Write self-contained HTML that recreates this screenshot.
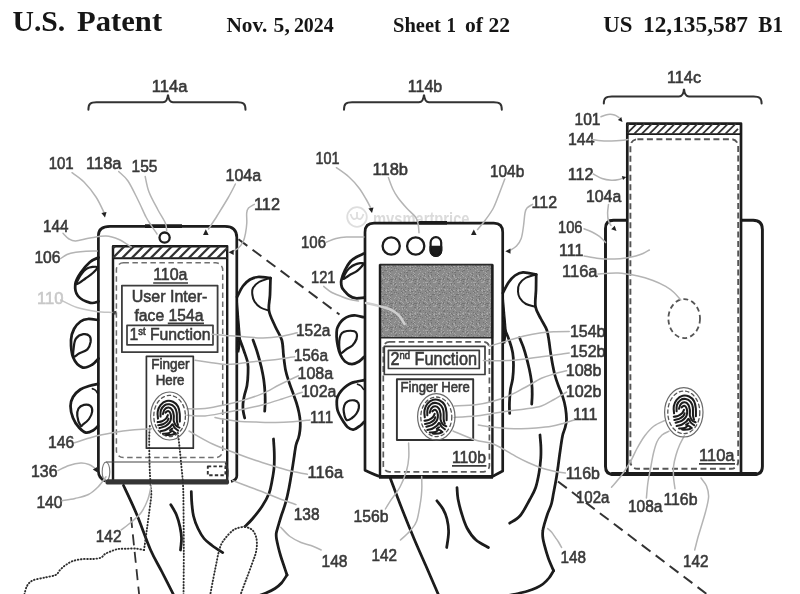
<!DOCTYPE html>
<html lang="en">
<head>
<meta charset="utf-8">
<title>U.S. Patent US 12,135,587 B1 - Sheet 1 of 22</title>
<style>
html,body{margin:0;padding:0;background:#fff;}
body{width:800px;height:594px;overflow:hidden;font-family:"Liberation Sans",sans-serif;}
svg{display:block;}
</style>
</head>
<body>
<svg width="800" height="594" viewBox="0 0 800 594">
<defs><filter id="soft" x="0" y="0" width="800" height="594" filterUnits="userSpaceOnUse"><feGaussianBlur stdDeviation="0.55"/></filter></defs>
<rect x="0" y="0" width="800" height="594" fill="#ffffff"/>
<g filter="url(#soft)">
<g id="watermark" fill="none" stroke="#dedede" stroke-width="1.8"><circle cx="357" cy="217" r="9.8"/><path d="M350.5 214Q353 222 357 217.5Q361 222 363.5 214M357 217.5V212"/></g>
<clipPath id="wmc"><rect x="340" y="200" width="170" height="22.2"/></clipPath>
<text clip-path="url(#wmc)" x="373" y="224.8" font-family="'Liberation Sans', sans-serif" font-weight="bold" font-size="18" textLength="96.5" lengthAdjust="spacingAndGlyphs" fill="#dbdbdb">mysmartprice</text>
<text y="31.3" font-family="'Liberation Serif', serif" font-weight="bold" font-size="30" fill="#151515"><tspan x="12.5" textLength="52.8" lengthAdjust="spacingAndGlyphs">U.S.</tspan> <tspan x="77.1" textLength="85.0" lengthAdjust="spacingAndGlyphs">Patent</tspan></text>
<text y="31.5" font-family="'Liberation Serif', serif" font-weight="bold" font-size="20" fill="#151515"><tspan x="226.4" textLength="40.9" lengthAdjust="spacingAndGlyphs">Nov.</tspan> <tspan x="273.6" textLength="16.2" lengthAdjust="spacingAndGlyphs">5,</tspan> <tspan x="293.9" textLength="39.9" lengthAdjust="spacingAndGlyphs">2024</tspan></text>
<text y="31.5" font-family="'Liberation Serif', serif" font-weight="bold" font-size="20" fill="#151515"><tspan x="393" textLength="47.8" lengthAdjust="spacingAndGlyphs">Sheet</tspan> <tspan x="446.5" textLength="9.5" lengthAdjust="spacingAndGlyphs">1</tspan> <tspan x="465" textLength="18.0" lengthAdjust="spacingAndGlyphs">of</tspan> <tspan x="488.5" textLength="21.5" lengthAdjust="spacingAndGlyphs">22</tspan></text>
<text y="31.8" font-family="'Liberation Serif', serif" font-weight="bold" font-size="22.4" fill="#151515"><tspan x="603.3" textLength="29.2" lengthAdjust="spacingAndGlyphs">US</tspan> <tspan x="643" textLength="105.0" lengthAdjust="spacingAndGlyphs">12,135,587</tspan> <tspan x="758.3" textLength="24.7" lengthAdjust="spacingAndGlyphs">B1</tspan></text>
<g id="labels" font-family="'Liberation Sans', sans-serif">
<text x="151.8" y="91.9" font-size="17" textLength="35.6" lengthAdjust="spacingAndGlyphs" fill="#3a3a3a" stroke="#3a3a3a" stroke-width="0.6" opacity="1">114a</text>
<text x="407.8" y="91.9" font-size="17" textLength="34.4" lengthAdjust="spacingAndGlyphs" fill="#3a3a3a" stroke="#3a3a3a" stroke-width="0.6" opacity="1">114b</text>
<text x="667.0" y="83.0" font-size="17" textLength="34.0" lengthAdjust="spacingAndGlyphs" fill="#3a3a3a" stroke="#3a3a3a" stroke-width="0.6" opacity="1">114c</text>
<text x="48.7" y="168.5" font-size="17" textLength="25.0" lengthAdjust="spacingAndGlyphs" fill="#3a3a3a" stroke="#3a3a3a" stroke-width="0.6" opacity="1">101</text>
<text x="86.0" y="168.5" font-size="17" textLength="35.5" lengthAdjust="spacingAndGlyphs" fill="#3a3a3a" stroke="#3a3a3a" stroke-width="0.6" opacity="1">118a</text>
<text x="131.6" y="171.7" font-size="17" textLength="25.9" lengthAdjust="spacingAndGlyphs" fill="#3a3a3a" stroke="#3a3a3a" stroke-width="0.6" opacity="1">155</text>
<text x="225.5" y="181.1" font-size="17" textLength="35.6" lengthAdjust="spacingAndGlyphs" fill="#3a3a3a" stroke="#3a3a3a" stroke-width="0.6" opacity="1">104a</text>
<text x="254.0" y="209.5" font-size="17" textLength="26.0" lengthAdjust="spacingAndGlyphs" fill="#3a3a3a" stroke="#3a3a3a" stroke-width="0.6" opacity="1">112</text>
<text x="43.0" y="232.1" font-size="17" textLength="25.5" lengthAdjust="spacingAndGlyphs" fill="#3a3a3a" stroke="#3a3a3a" stroke-width="0.6" opacity="1">144</text>
<text x="34.4" y="262.5" font-size="17" textLength="26.1" lengthAdjust="spacingAndGlyphs" fill="#3a3a3a" stroke="#3a3a3a" stroke-width="0.6" opacity="1">106</text>
<text x="296.0" y="336.1" font-size="17" textLength="34.5" lengthAdjust="spacingAndGlyphs" fill="#3a3a3a" stroke="#3a3a3a" stroke-width="0.6" opacity="1">152a</text>
<text x="293.7" y="360.5" font-size="17" textLength="34.3" lengthAdjust="spacingAndGlyphs" fill="#3a3a3a" stroke="#3a3a3a" stroke-width="0.6" opacity="1">156a</text>
<text x="297.5" y="379.0" font-size="17" textLength="35.6" lengthAdjust="spacingAndGlyphs" fill="#3a3a3a" stroke="#3a3a3a" stroke-width="0.6" opacity="1">108a</text>
<text x="301.0" y="397.2" font-size="17" textLength="35.5" lengthAdjust="spacingAndGlyphs" fill="#3a3a3a" stroke="#3a3a3a" stroke-width="0.6" opacity="1">102a</text>
<text x="310.0" y="423.2" font-size="17" textLength="23.1" lengthAdjust="spacingAndGlyphs" fill="#3a3a3a" stroke="#3a3a3a" stroke-width="0.6" opacity="1">111</text>
<text x="48.0" y="448.0" font-size="17" textLength="26.2" lengthAdjust="spacingAndGlyphs" fill="#3a3a3a" stroke="#3a3a3a" stroke-width="0.6" opacity="1">146</text>
<text x="31.0" y="476.8" font-size="17" textLength="26.5" lengthAdjust="spacingAndGlyphs" fill="#3a3a3a" stroke="#3a3a3a" stroke-width="0.6" opacity="1">136</text>
<text x="36.4" y="507.9" font-size="17" textLength="26.1" lengthAdjust="spacingAndGlyphs" fill="#3a3a3a" stroke="#3a3a3a" stroke-width="0.6" opacity="1">140</text>
<text x="95.7" y="541.5" font-size="17" textLength="25.8" lengthAdjust="spacingAndGlyphs" fill="#3a3a3a" stroke="#3a3a3a" stroke-width="0.6" opacity="1">142</text>
<text x="307.6" y="478.1" font-size="17" textLength="35.6" lengthAdjust="spacingAndGlyphs" fill="#3a3a3a" stroke="#3a3a3a" stroke-width="0.6" opacity="1">116a</text>
<text x="293.7" y="520.0" font-size="17" textLength="25.8" lengthAdjust="spacingAndGlyphs" fill="#3a3a3a" stroke="#3a3a3a" stroke-width="0.6" opacity="1">138</text>
<text x="321.5" y="567.2" font-size="17" textLength="26.0" lengthAdjust="spacingAndGlyphs" fill="#3a3a3a" stroke="#3a3a3a" stroke-width="0.6" opacity="1">148</text>
<text x="315.5" y="163.9" font-size="17" textLength="24.0" lengthAdjust="spacingAndGlyphs" fill="#3a3a3a" stroke="#3a3a3a" stroke-width="0.6" opacity="1">101</text>
<text x="372.5" y="175.1" font-size="17" textLength="35.5" lengthAdjust="spacingAndGlyphs" fill="#3a3a3a" stroke="#3a3a3a" stroke-width="0.6" opacity="1">118b</text>
<text x="490.0" y="176.5" font-size="17" textLength="34.2" lengthAdjust="spacingAndGlyphs" fill="#3a3a3a" stroke="#3a3a3a" stroke-width="0.6" opacity="1">104b</text>
<text x="531.6" y="208.1" font-size="17" textLength="25.5" lengthAdjust="spacingAndGlyphs" fill="#3a3a3a" stroke="#3a3a3a" stroke-width="0.6" opacity="1">112</text>
<text x="301.0" y="248.0" font-size="17" textLength="25.0" lengthAdjust="spacingAndGlyphs" fill="#3a3a3a" stroke="#3a3a3a" stroke-width="0.6" opacity="1">106</text>
<text x="311.0" y="282.5" font-size="17" textLength="24.5" lengthAdjust="spacingAndGlyphs" fill="#3a3a3a" stroke="#3a3a3a" stroke-width="0.6" opacity="1">121</text>
<text x="570.0" y="336.5" font-size="17" textLength="35.5" lengthAdjust="spacingAndGlyphs" fill="#3a3a3a" stroke="#3a3a3a" stroke-width="0.6" opacity="1">154b</text>
<text x="570.0" y="356.8" font-size="17" textLength="35.5" lengthAdjust="spacingAndGlyphs" fill="#3a3a3a" stroke="#3a3a3a" stroke-width="0.6" opacity="1">152b</text>
<text x="565.7" y="375.8" font-size="17" textLength="35.8" lengthAdjust="spacingAndGlyphs" fill="#3a3a3a" stroke="#3a3a3a" stroke-width="0.6" opacity="1">108b</text>
<text x="565.7" y="396.5" font-size="17" textLength="35.8" lengthAdjust="spacingAndGlyphs" fill="#3a3a3a" stroke="#3a3a3a" stroke-width="0.6" opacity="1">102b</text>
<text x="573.0" y="420.2" font-size="17" textLength="24.5" lengthAdjust="spacingAndGlyphs" fill="#3a3a3a" stroke="#3a3a3a" stroke-width="0.6" opacity="1">111</text>
<text x="565.7" y="478.9" font-size="17" textLength="34.3" lengthAdjust="spacingAndGlyphs" fill="#3a3a3a" stroke="#3a3a3a" stroke-width="0.6" opacity="1">116b</text>
<text x="353.5" y="521.8" font-size="17" textLength="35.0" lengthAdjust="spacingAndGlyphs" fill="#3a3a3a" stroke="#3a3a3a" stroke-width="0.6" opacity="1">156b</text>
<text x="371.5" y="560.5" font-size="17" textLength="25.5" lengthAdjust="spacingAndGlyphs" fill="#3a3a3a" stroke="#3a3a3a" stroke-width="0.6" opacity="1">142</text>
<text x="560.6" y="562.7" font-size="17" textLength="25.5" lengthAdjust="spacingAndGlyphs" fill="#3a3a3a" stroke="#3a3a3a" stroke-width="0.6" opacity="1">148</text>
<text x="574.5" y="124.5" font-size="17" textLength="26.0" lengthAdjust="spacingAndGlyphs" fill="#3a3a3a" stroke="#3a3a3a" stroke-width="0.6" opacity="1">101</text>
<text x="568.0" y="144.5" font-size="17" textLength="26.5" lengthAdjust="spacingAndGlyphs" fill="#3a3a3a" stroke="#3a3a3a" stroke-width="0.6" opacity="1">144</text>
<text x="567.7" y="179.5" font-size="17" textLength="25.8" lengthAdjust="spacingAndGlyphs" fill="#3a3a3a" stroke="#3a3a3a" stroke-width="0.6" opacity="1">112</text>
<text x="586.0" y="201.5" font-size="17" textLength="35.2" lengthAdjust="spacingAndGlyphs" fill="#3a3a3a" stroke="#3a3a3a" stroke-width="0.6" opacity="1">104a</text>
<text x="558.0" y="232.8" font-size="17" textLength="24.5" lengthAdjust="spacingAndGlyphs" fill="#3a3a3a" stroke="#3a3a3a" stroke-width="0.6" opacity="1">106</text>
<text x="559.0" y="255.5" font-size="17" textLength="24.5" lengthAdjust="spacingAndGlyphs" fill="#3a3a3a" stroke="#3a3a3a" stroke-width="0.6" opacity="1">111</text>
<text x="562.0" y="277.0" font-size="17" textLength="35.5" lengthAdjust="spacingAndGlyphs" fill="#3a3a3a" stroke="#3a3a3a" stroke-width="0.6" opacity="1">116a</text>
<text x="576.0" y="503.1" font-size="17" textLength="33.5" lengthAdjust="spacingAndGlyphs" fill="#3a3a3a" stroke="#3a3a3a" stroke-width="0.6" opacity="1">102a</text>
<text x="628.0" y="512.2" font-size="17" textLength="34.5" lengthAdjust="spacingAndGlyphs" fill="#3a3a3a" stroke="#3a3a3a" stroke-width="0.6" opacity="1">108a</text>
<text x="663.4" y="505.4" font-size="17" textLength="34.1" lengthAdjust="spacingAndGlyphs" fill="#3a3a3a" stroke="#3a3a3a" stroke-width="0.6" opacity="1">116b</text>
<text x="683.0" y="566.5" font-size="17" textLength="25.5" lengthAdjust="spacingAndGlyphs" fill="#3a3a3a" stroke="#3a3a3a" stroke-width="0.6" opacity="1">142</text>
<text x="37.0" y="303.5" font-size="17" textLength="26.5" lengthAdjust="spacingAndGlyphs" fill="#c8c8c8" stroke="#c8c8c8" stroke-width="0.6" opacity="1">110</text>
<text x="153.2" y="280.1" font-size="17" textLength="34.3" lengthAdjust="spacingAndGlyphs" fill="#3a3a3a" stroke="#3a3a3a" stroke-width="0.6" opacity="1">110a</text>
<path d="M153.2 283.0H188.0" stroke="#3a3a3a" stroke-width="1.7" fill="none"/>
<text x="452.0" y="462.9" font-size="17" textLength="33.9" lengthAdjust="spacingAndGlyphs" fill="#3a3a3a" stroke="#3a3a3a" stroke-width="0.6" opacity="1">110b</text>
<path d="M452.0 465.8H486.4" stroke="#3a3a3a" stroke-width="1.7" fill="none"/>
<text x="699.0" y="461.0" font-size="17" textLength="35.5" lengthAdjust="spacingAndGlyphs" fill="#3a3a3a" stroke="#3a3a3a" stroke-width="0.6" opacity="1">110a</text>
<path d="M699.0 463.9H735.0" stroke="#3a3a3a" stroke-width="1.7" fill="none"/>
<text x="131.8" y="301.5" font-size="17" textLength="75.5" lengthAdjust="spacingAndGlyphs" fill="#3a3a3a" stroke="#3a3a3a" stroke-width="0.6" opacity="1">User Inter-</text>
<text x="134.5" y="320.5" font-size="17" textLength="69.0" lengthAdjust="spacingAndGlyphs" fill="#3a3a3a" stroke="#3a3a3a" stroke-width="0.6" opacity="1">face 154a</text>
<path d="M167.8 323.4H204" stroke="#3a3a3a" stroke-width="1.7" fill="none"/>
<text x="151.2" y="368.9" font-size="13.8" textLength="38.3" lengthAdjust="spacingAndGlyphs" fill="#3a3a3a" stroke="#3a3a3a" stroke-width="0.6" opacity="1">Finger</text>
<text x="155.7" y="385.0" font-size="13.8" textLength="28.8" lengthAdjust="spacingAndGlyphs" fill="#3a3a3a" stroke="#3a3a3a" stroke-width="0.6" opacity="1">Here</text>
<text x="400.5" y="392.2" font-size="14.3" textLength="69.2" lengthAdjust="spacingAndGlyphs" fill="#3a3a3a" stroke="#3a3a3a" stroke-width="0.6" opacity="1">Finger Here</text>
<text x="129.5" y="340.2" font-size="17" textLength="81" lengthAdjust="spacingAndGlyphs" fill="#3a3a3a" stroke="#3a3a3a" stroke-width="0.6">1<tspan font-size="10" dy="-5.5">st</tspan><tspan dy="5.5"> Function</tspan></text>
<text x="390.5" y="364.8" font-size="18" textLength="86.5" lengthAdjust="spacingAndGlyphs" fill="#3a3a3a" stroke="#3a3a3a" stroke-width="0.6">2<tspan font-size="10.5" dy="-6">nd</tspan><tspan dy="6"> Function</tspan></text>
</g>
<path d="M88.4 109.8 C88.4 103.8 90.4 102.3 96.4 102.3 H163 C166 102.3 167.5 100.3 168 94.7 C168.5 100.3 170 102.3 173 102.3 H237.5 C243.5 102.3 245.5 103.8 245.5 109.8" fill="none" stroke="#333" stroke-width="2" stroke-linecap="round"/>
<path d="M344 109.8 C344 103.8 346 102.3 352 102.3 H419 C422 102.3 423.5 100.3 424 94.7 C424.5 100.3 426 102.3 429 102.3 H493.8 C499.8 102.3 501.8 103.8 501.8 109.8" fill="none" stroke="#333" stroke-width="2" stroke-linecap="round"/>
<path d="M603.8 103.5 C603.8 98.0 605.8 96.5 611.8 96.5 H679 C682 96.5 683.5 94.5 684 88.9 C684.5 94.5 686 96.5 689 96.5 H753.6 C759.6 96.5 761.6 98.0 761.6 103.5" fill="none" stroke="#333" stroke-width="2" stroke-linecap="round"/>
<g id="devA" fill="none" stroke-linejoin="round">
<path d="M105.5 481Q98.4 478.5 98.4 471V235.5Q98.4 226.3 110 226.3H225Q236.8 226.3 236.8 237.5V476Q236.8 480 231 481.5" stroke="#1a1a1a" stroke-width="2.7"/>
<path d="M145 226.1H182" stroke="#1a1a1a" stroke-width="3.8"/>
<circle cx="164.6" cy="237.6" r="5.1" stroke="#1a1a1a" stroke-width="2.3"/>
<path d="M113 482V246.2H227.2V482" stroke="#1a1a1a" stroke-width="2.4"/>
<path d="M113 258.2H227.2" stroke="#1a1a1a" stroke-width="2"/>
<path d="M113.0 248.2L115.0 246.2M113.0 257.7L124.5 246.2M122.0 258.2L134.0 246.2M131.5 258.2L143.5 246.2M141.0 258.2L153.0 246.2M150.5 258.2L162.5 246.2M160.0 258.2L172.0 246.2M169.5 258.2L181.5 246.2M179.0 258.2L191.0 246.2M188.5 258.2L200.5 246.2M198.0 258.2L210.0 246.2M207.5 258.2L219.5 246.2M217.0 258.2L227.2 248.0M226.5 258.2L227.2 257.5" stroke="#333" stroke-width="2.3" fill="none"/>
<rect x="116.4" y="262.8" width="106.3" height="194.8" rx="7" stroke="#707070" stroke-width="1.5" stroke-dasharray="5.5 3.5"/>
<rect x="121.9" y="285.6" width="95.7" height="66.6" stroke="#3c3c3c" stroke-width="1.8"/>
<rect x="127" y="325.3" width="86" height="19.5" stroke="#3c3c3c" stroke-width="1.7"/>
<rect x="146.4" y="356.3" width="46.9" height="91.9" stroke="#333" stroke-width="1.7"/>
<path d="M106 462H227.4" stroke="#444" stroke-width="1.1"/>
<ellipse cx="106" cy="471.7" rx="3.8" ry="9.6" stroke="#777" stroke-width="1.1"/>
<path d="M108 481.9H226.5" stroke="#363636" stroke-width="5.2" stroke-linecap="round"/>
<path d="M225.5 462.5Q229.5 471 226.5 480" stroke="#333" stroke-width="1.8"/>
<rect x="207.8" y="466.4" width="17.6" height="8.8" stroke="#333" stroke-width="1.9" stroke-dasharray="3.4 2.2"/>
</g>
<g id="devB" fill="none" stroke-linejoin="round">
<path d="M379.5 476.4Q376 475.6 365 470.3V232.2Q365 223.2 374 223.2H493.7Q502.7 223.2 502.7 232.2V471Q497 474 492.8 476.4Z" stroke="#1a1a1a" stroke-width="2.7"/>
<path d="M379 476.8H493" stroke="#1a1a1a" stroke-width="3.8"/>
<path d="M418.7 222.8H447" stroke="#1a1a1a" stroke-width="3.6"/>
<circle cx="391.2" cy="246" r="8.6" stroke="#1a1a1a" stroke-width="2.3"/>
<circle cx="415.7" cy="246" r="8.6" stroke="#1a1a1a" stroke-width="2.3"/>
<rect x="430.6" y="237.2" width="10.6" height="18.6" rx="5.3" fill="#fff" stroke="#1a1a1a" stroke-width="2.2"/>
<path d="M430.6 246.8H441.2V250.5A5.3 5.3 0 0 1 430.6 250.5Z" fill="#1a1a1a" stroke="#1a1a1a" stroke-width="2.2"/>
<pattern id="spk" width="24" height="24" patternUnits="userSpaceOnUse"><rect width="24" height="24" fill="#8b8b8b"/><path d="M10 4.5h1M12 20.5h1M1 2.5h1M17 3.5h1M11 18.5h1M1 16.5h1M6 1.5h1M2 13.5h1M13 2.5h1M7 2.5h1M17 13.5h1M1 18.5h1M3 7.5h1M20 20.5h1M18 1.5h1M18 18.5h1M12 1.5h1M7 1.5h1M17 4.5h1M9 13.5h1M4 17.5h1M3 18.5h1M9 17.5h1M21 5.5h1M3 18.5h1M18 20.5h1M6 11.5h1M3 17.5h1M22 2.5h1M18 1.5h1M19 6.5h1M15 21.5h1M17 13.5h1M10 14.5h1M18 14.5h1M11 9.5h1M7 5.5h1M22 7.5h1M2 18.5h1M9 16.5h1M15 10.5h1M23 14.5h1M9 19.5h1M2 3.5h1M16 13.5h1M5 10.5h1M4 15.5h1M13 1.5h1M21 2.5h1M17 18.5h1M10 10.5h1M22 11.5h1M19 15.5h1M18 14.5h1M2 2.5h1M8 15.5h1M22 21.5h1M2 1.5h1M23 22.5h1M9 20.5h1M18 21.5h1M14 9.5h1M22 12.5h1M21 11.5h1M0 14.5h1M11 5.5h1M19 3.5h1M15 1.5h1M6 9.5h1M4 23.5h1M7 12.5h1M12 15.5h1M2 5.5h1M14 12.5h1M17 8.5h1M4 13.5h1M17 8.5h1M22 13.5h1M11 21.5h1M12 7.5h1M4 2.5h1M5 4.5h1M7 21.5h1M7 0.5h1M15 18.5h1M5 8.5h1M9 0.5h1M4 13.5h1M17 11.5h1M19 18.5h1" stroke="#a6a6a6" stroke-width="1"/><path d="M10 4.5h1M22 16.5h1M19 20.5h1M21 23.5h1M1 14.5h1M21 17.5h1M12 12.5h1M12 12.5h1M3 15.5h1M20 12.5h1M1 6.5h1M2 6.5h1M14 5.5h1M3 10.5h1M19 1.5h1M3 0.5h1M18 4.5h1M17 3.5h1M11 19.5h1M0 2.5h1M6 19.5h1M12 4.5h1M20 8.5h1M11 19.5h1M11 15.5h1M3 3.5h1M15 14.5h1M15 15.5h1M9 2.5h1M4 3.5h1M23 10.5h1M23 8.5h1M15 22.5h1M5 16.5h1M0 6.5h1M16 11.5h1M4 22.5h1M17 0.5h1M16 9.5h1M20 2.5h1M22 8.5h1M16 11.5h1M5 11.5h1M7 17.5h1M17 16.5h1M10 20.5h1M7 19.5h1M6 7.5h1M12 23.5h1M7 6.5h1M16 15.5h1M11 23.5h1M0 0.5h1M8 15.5h1M8 6.5h1M22 19.5h1M11 14.5h1M23 11.5h1M11 2.5h1M7 3.5h1M7 15.5h1M6 10.5h1M6 15.5h1M19 19.5h1M0 15.5h1M20 11.5h1M20 2.5h1M21 3.5h1M12 22.5h1M6 15.5h1" stroke="#737373" stroke-width="1"/></pattern>
<rect x="380" y="264.6" width="112.4" height="73.2" fill="url(#spk)" stroke="#2a2a2a" stroke-width="1.6"/>
<path d="M380 476V264.6M492.4 264.6V476" stroke="#1a1a1a" stroke-width="2.4"/>
<rect x="383.3" y="341.8" width="106.1" height="130" rx="6" stroke="#5c5c5c" stroke-width="1.7" stroke-dasharray="6 3.5"/>
<rect x="384.3" y="346.3" width="100.7" height="28.2" stroke="#3c3c3c" stroke-width="1.7"/>
<rect x="388.4" y="350.3" width="90.9" height="18.2" stroke="#3c3c3c" stroke-width="1.7"/>
<rect x="396.9" y="379.2" width="76.3" height="60.8" stroke="#333" stroke-width="1.9"/>
</g>
<g id="devC" fill="none" stroke-linejoin="round">
<path d="M627.3 220.3H613.5Q605.5 220.3 605.5 228.5V466.5Q605.5 474.5 613.5 474.5H754.4Q762.4 474.5 762.4 466.5V229.5Q762.4 220.3 753 220.3H741" stroke="#1a1a1a" stroke-width="2.9"/>
<path d="M627.3 474V123.6H741V474" stroke="#1a1a1a" stroke-width="2.7"/>
<path d="M627.3 134.2H741" stroke="#1a1a1a" stroke-width="1.8"/>
<path d="M612 474H756" stroke="#1a1a1a" stroke-width="4.2" stroke-linecap="round"/>
<path d="M627.3 125.6L629.3 123.6M627.3 133.2L636.9 123.6M633.9 134.2L644.5 123.6M641.5 134.2L652.1 123.6M649.1 134.2L659.7 123.6M656.7 134.2L667.3 123.6M664.3 134.2L674.9 123.6M671.9 134.2L682.5 123.6M679.5 134.2L690.1 123.6M687.1 134.2L697.7 123.6M694.7 134.2L705.3 123.6M702.3 134.2L712.9 123.6M709.9 134.2L720.5 123.6M717.5 134.2L728.1 123.6M725.1 134.2L735.7 123.6M732.7 134.2L738.0 128.9" stroke="#333" stroke-width="1.8" fill="none"/>
<rect x="630.4" y="139.2" width="107.8" height="329.6" rx="7" stroke="#555" stroke-width="1.9" stroke-dasharray="6 3.5"/>
<ellipse cx="684.2" cy="318.6" rx="15.8" ry="19.5" stroke="#555" stroke-width="1.8" stroke-dasharray="5 3.2"/>
</g>
<g id="handA">
<path d="M98.5 257.5C97.1 258.2 93.0 259.4 90.0 262.0C87.0 264.6 83.0 269.3 80.5 273.0C78.0 276.7 75.7 280.5 75.3 284.3C74.9 288.1 75.5 292.9 78.0 296.0C80.5 299.1 87.0 301.9 90.4 302.8C93.8 303.7 97.2 301.7 98.5 301.5" fill="none" stroke="#1a1a1a" stroke-width="2.75" stroke-linecap="round" stroke-linejoin="round"/>
<path d="M97.0 267.0C95.9 266.3 89.8 267.1 87.0 268.5C84.2 269.9 82.2 272.9 80.5 275.5C78.8 278.1 75.7 283.8 76.5 284.3C77.3 284.8 82.6 280.5 85.4 278.5C88.2 276.5 91.5 274.4 93.4 272.5C95.3 270.6 98.1 267.7 97.0 267.0Z" fill="none" stroke="#1a1a1a" stroke-width="2.2" stroke-linecap="round" stroke-linejoin="round"/>
<path d="M98.0 320.0C96.3 319.8 90.9 318.8 88.0 319.0C85.1 319.2 82.8 319.8 80.5 321.5C78.2 323.2 75.6 325.9 74.0 329.0C72.4 332.1 71.1 335.2 71.0 340.0C70.9 344.8 71.3 352.9 73.2 357.5C75.1 362.1 79.1 366.2 82.3 367.4C85.5 368.6 89.7 366.0 92.4 364.5C95.1 363.0 97.5 359.5 98.5 358.5" fill="none" stroke="#1a1a1a" stroke-width="2.75" stroke-linecap="round" stroke-linejoin="round"/>
<path d="M73.6 356.5C72.7 355.4 73.4 350.0 73.8 347.0C74.2 344.0 74.4 340.6 76.0 338.5C77.6 336.4 81.0 334.6 83.3 334.2C85.5 333.8 88.3 334.7 89.5 336.0C90.7 337.3 90.9 339.8 90.6 342.0C90.2 344.2 89.3 347.5 87.4 349.4C85.5 351.3 81.3 352.3 79.0 353.5C76.7 354.7 74.5 357.6 73.6 356.5Z" fill="none" stroke="#1a1a1a" stroke-width="2.2" stroke-linecap="round" stroke-linejoin="round"/>
<path d="M98.0 384.0C96.5 384.3 92.0 385.1 89.0 386.0C86.0 386.9 83.0 387.7 80.3 389.5C77.6 391.3 74.6 394.2 73.0 397.0C71.4 399.8 70.5 402.5 70.5 406.0C70.5 409.5 71.6 414.4 73.0 418.0C74.4 421.6 76.8 425.1 79.0 427.5C81.2 429.9 83.7 432.1 86.0 432.6C88.3 433.1 91.0 431.6 93.0 430.5C95.0 429.4 97.2 426.8 98.0 426.0" fill="none" stroke="#1a1a1a" stroke-width="2.75" stroke-linecap="round" stroke-linejoin="round"/>
<path d="M80.6 425.6C79.6 424.2 77.6 418.9 77.3 416.0C77.0 413.1 77.4 410.4 78.5 408.5C79.6 406.6 82.0 405.2 84.0 404.8C86.0 404.4 89.0 404.7 90.4 405.8C91.8 406.9 92.4 409.3 92.2 411.5C92.0 413.7 90.5 416.8 89.0 419.0C87.5 421.2 84.4 423.4 83.0 424.5C81.6 425.6 81.5 427.0 80.6 425.6Z" fill="none" stroke="#1a1a1a" stroke-width="2.2" stroke-linecap="round" stroke-linejoin="round"/>
<path d="M92.4 388.7C92.9 389.0 94.7 389.6 95.5 390.3C96.3 391.1 97.2 392.7 97.5 393.2" fill="none" stroke="#1a1a1a" stroke-width="1.6" stroke-linecap="round" stroke-linejoin="round"/>
<path d="M237.0 297.0C238.0 295.2 240.8 288.9 243.0 286.0C245.2 283.1 247.5 281.0 250.0 279.5C252.5 278.0 254.6 277.2 258.0 277.0C261.4 276.8 268.4 277.8 270.5 278.0" fill="none" stroke="#1a1a1a" stroke-width="2.75" stroke-linecap="round" stroke-linejoin="round"/>
<path d="M270.5 278.0C270.4 280.8 270.2 289.6 270.0 295.0C269.8 300.4 268.2 305.4 269.0 310.6C269.8 315.8 272.9 321.1 275.0 326.0C277.1 330.9 280.4 335.2 281.8 340.0C283.2 344.8 282.9 349.9 283.5 355.0C284.1 360.1 284.7 365.8 285.6 370.3C286.5 374.8 287.8 378.2 289.0 382.0C290.2 385.8 291.8 389.5 293.0 393.0C294.2 396.5 295.5 399.7 296.5 403.0C297.5 406.3 298.4 409.7 299.0 412.7C299.6 415.7 300.0 418.1 300.2 421.0C300.4 423.9 300.3 427.2 300.0 430.0C299.7 432.8 299.2 435.5 298.5 438.0C297.8 440.5 296.8 441.5 296.0 445.0C295.2 448.5 294.5 454.4 293.8 459.0C293.1 463.6 292.5 467.6 291.7 472.4C290.9 477.2 290.0 482.9 289.0 488.0C288.0 493.1 286.9 498.2 285.6 502.7C284.4 507.2 282.8 511.0 281.5 515.0C280.2 519.0 278.9 523.7 278.0 526.7C277.1 529.7 276.6 531.0 276.3 533.0C276.1 535.0 276.1 536.3 276.5 538.8C276.9 541.3 277.8 545.0 278.5 548.0C279.2 551.0 280.1 554.0 281.0 557.0C281.9 560.0 283.0 563.0 284.0 566.0C285.0 569.0 286.5 573.5 287.0 575.0" fill="none" stroke="#1a1a1a" stroke-width="2.75" stroke-linecap="round" stroke-linejoin="round"/>
<path d="M287.0 575.0C286.1 576.3 283.5 580.8 281.5 583.0C279.5 585.2 277.6 586.8 275.0 588.5C272.4 590.2 268.8 591.8 266.0 593.0C263.2 594.2 259.3 595.5 258.0 596.0" fill="none" stroke="#1a1a1a" stroke-width="2.75" stroke-linecap="round" stroke-linejoin="round"/>
<path d="M269.0 278.3C267.3 278.9 261.7 280.4 259.0 282.0C256.3 283.6 254.1 285.9 253.0 288.0C251.9 290.1 252.1 292.2 252.3 294.5C252.6 296.8 253.1 299.3 254.5 301.5C255.9 303.7 258.1 306.0 260.5 307.5C262.9 309.0 267.6 310.1 269.0 310.6" fill="none" stroke="#1a1a1a" stroke-width="2" stroke-linecap="round" stroke-linejoin="round"/>
<path d="M237 297L240.6 341L238.8 352L236.4 352Z" fill="#1a1a1a" stroke="#1a1a1a" stroke-width="1.2" stroke-linejoin="round"/>
<path d="M240.0 340.0C240.7 341.8 242.7 347.2 244.0 351.0C245.3 354.8 247.0 358.9 247.7 362.7C248.4 366.5 248.1 370.2 248.0 374.0C247.9 377.8 247.6 382.0 247.0 385.5C246.4 389.0 245.2 392.0 244.5 395.0C243.8 398.0 243.2 400.9 243.0 403.6C242.8 406.3 242.9 408.6 243.2 411.0C243.5 413.4 244.4 416.8 244.7 418.0" fill="none" stroke="#1a1a1a" stroke-width="2.75" stroke-linecap="round" stroke-linejoin="round"/>
<path d="M253.0 340.0C253.8 342.2 256.1 348.4 257.5 353.0C258.9 357.6 260.3 362.8 261.4 367.3C262.4 371.8 263.2 375.7 263.8 380.0C264.4 384.3 264.8 389.3 265.0 393.0C265.2 396.7 265.2 399.0 265.2 402.0C265.1 405.0 264.8 409.7 264.7 411.2" fill="none" stroke="#1a1a1a" stroke-width="2.75" stroke-linecap="round" stroke-linejoin="round"/>
<path d="M273.5 439.0C273.6 441.3 274.2 448.2 274.3 453.0C274.4 457.8 274.4 463.3 274.0 468.0C273.6 472.7 272.8 476.7 272.0 481.0C271.2 485.3 270.7 489.4 269.0 493.6C267.3 497.9 264.8 502.3 262.0 506.5C259.2 510.7 255.1 515.7 252.3 519.0C249.5 522.3 246.2 525.2 245.0 526.5" fill="none" stroke="#1a1a1a" stroke-width="2.75" stroke-linecap="round" stroke-linejoin="round"/>
<path d="M123.5 485.5C125.8 490.4 132.5 504.2 137.0 515.0C141.5 525.8 146.4 540.5 150.6 550.0C154.8 559.5 158.1 564.3 162.0 572.0C165.9 579.7 172.2 592.0 174.2 596.0" fill="none" stroke="#1a1a1a" stroke-width="2.75" stroke-linecap="round" stroke-linejoin="round"/>
<path d="M170.8 504.7C171.8 506.4 175.0 511.3 176.5 515.0C178.0 518.7 179.2 523.2 180.0 527.0C180.8 530.8 181.4 534.2 181.5 538.0C181.6 541.8 180.7 548.0 180.5 550.0" fill="none" stroke="#1a1a1a" stroke-width="2.75" stroke-linecap="round" stroke-linejoin="round"/>
<path d="M191.3 491.6C191.4 493.5 191.4 498.9 191.8 503.0C192.2 507.1 192.5 511.8 193.5 516.0C194.5 520.2 196.2 524.8 198.0 528.5C199.8 532.2 201.7 535.7 204.0 538.5C206.3 541.3 208.9 543.1 212.0 545.5C215.1 547.9 220.9 551.4 222.7 552.6" fill="none" stroke="#1a1a1a" stroke-width="2.75" stroke-linecap="round" stroke-linejoin="round"/>
<path d="M200.0 537.4C201.7 538.8 206.2 543.5 210.0 546.0C213.8 548.5 220.6 551.5 222.7 552.6" fill="none" stroke="#1a1a1a" stroke-width="0.01" stroke-linecap="round" stroke-linejoin="round"/>
<path d="M149.8 426.0C149.7 428.3 149.2 433.3 149.2 440.0C149.2 446.7 149.4 458.6 149.6 466.0C149.8 473.4 150.3 479.7 150.6 484.5C150.9 489.3 151.5 490.8 151.3 495.0C151.1 499.2 150.2 504.2 149.5 510.0C148.8 515.8 147.7 523.3 146.8 530.0C145.9 536.7 144.5 546.7 144.0 550.0" fill="none" stroke="#2e2e2e" stroke-width="1.9" stroke-linecap="round" stroke-linejoin="round" stroke-dasharray="0.6 2.5"/>
<path d="M177.8 433.0C178.1 435.0 178.8 440.2 179.3 445.0C179.8 449.8 180.4 455.4 181.0 462.0C181.6 468.6 182.6 477.0 183.0 484.5C183.4 492.0 183.4 496.1 183.5 507.0C183.6 517.9 183.8 535.2 183.8 550.0C183.8 564.8 183.6 588.3 183.5 596.0" fill="none" stroke="#2e2e2e" stroke-width="1.9" stroke-linecap="round" stroke-linejoin="round" stroke-dasharray="0.6 2.5"/>
<path d="M144.0 550.0C142.5 549.8 137.9 548.7 135.0 548.5C132.1 548.3 129.1 548.7 126.3 548.8C123.5 548.9 120.5 548.6 118.0 549.0C115.5 549.4 113.2 550.5 111.0 551.3C108.8 552.1 106.7 553.0 105.0 554.0C103.3 555.0 103.0 556.8 101.0 557.6C99.0 558.4 96.0 558.8 93.0 559.0C90.0 559.2 86.6 558.7 83.3 559.0C80.0 559.3 75.9 560.0 73.0 561.0C70.1 562.0 67.9 563.5 65.7 565.0C63.5 566.5 61.7 568.3 60.0 570.0C58.3 571.7 58.1 573.8 55.6 575.0C53.1 576.2 48.8 576.6 45.0 577.5C41.2 578.4 35.8 579.0 32.8 580.4C29.8 581.8 28.5 583.4 27.0 586.0C25.5 588.6 24.5 594.3 24.0 596.0" fill="none" stroke="#2e2e2e" stroke-width="1.9" stroke-linecap="round" stroke-linejoin="round" stroke-dasharray="0.6 2.5"/>
<path d="M245.0 526.5C243.8 526.8 240.0 527.3 238.0 528.0C236.0 528.7 234.9 528.8 232.8 530.5C230.7 532.2 227.6 535.2 225.5 538.0C223.4 540.8 221.8 542.2 220.0 547.5C218.2 552.8 216.7 561.9 215.0 570.0C213.3 578.1 210.8 591.7 210.0 596.0" fill="none" stroke="#2e2e2e" stroke-width="1.9" stroke-linecap="round" stroke-linejoin="round" stroke-dasharray="0.6 2.5"/>
<path d="M245.0 526.5C246.0 526.9 249.4 527.9 251.0 529.0C252.6 530.1 253.5 531.0 254.5 533.0C255.5 535.0 256.6 537.8 256.8 541.0C257.1 544.2 256.8 548.3 256.0 552.0C255.2 555.7 254.0 558.3 252.3 563.0C250.6 567.7 248.1 574.5 246.0 580.0C243.9 585.5 241.0 593.3 240.0 596.0" fill="none" stroke="#2e2e2e" stroke-width="1.9" stroke-linecap="round" stroke-linejoin="round" stroke-dasharray="0.6 2.5"/>
</g>
<path d="M238.5 239.3L339.5 314.5" stroke="#333" stroke-width="2" stroke-dasharray="11 6.5" fill="none"/>
<path d="M558 481.5L712 598" stroke="#333" stroke-width="2" stroke-dasharray="11 6.5" fill="none"/>
<path d="M131 517L139.5 598" stroke="#333" stroke-width="1.8" stroke-dasharray="11 6.5" fill="none"/>
<g id="handB">
<path d="M364.0 253.6C362.8 254.2 358.8 255.7 356.5 257.0C354.2 258.3 352.3 259.3 350.4 261.5C348.5 263.7 346.5 266.9 345.0 270.0C343.5 273.1 341.8 277.6 341.3 280.4C340.8 283.2 341.3 285.3 341.8 287.0C342.3 288.7 343.1 289.4 344.3 290.8C345.5 292.2 347.1 294.3 349.0 295.5C350.9 296.7 353.0 297.8 355.5 298.2C358.0 298.6 362.6 297.7 364.0 297.6" fill="none" stroke="#1a1a1a" stroke-width="2.75" stroke-linecap="round" stroke-linejoin="round"/>
<path d="M363.5 263.4C363.2 262.4 357.9 263.5 355.5 264.4C353.1 265.2 350.7 267.0 349.0 268.5C347.3 270.0 346.2 271.8 345.3 273.5C344.4 275.2 342.5 278.6 343.3 278.8C344.1 279.0 348.0 276.0 350.4 274.6C352.8 273.2 355.3 272.5 357.5 270.6C359.7 268.7 363.8 264.4 363.5 263.4Z" fill="none" stroke="#1a1a1a" stroke-width="2.3" stroke-linecap="round" stroke-linejoin="round"/>
<path d="M363.5 317.2C362.2 316.9 358.4 315.7 356.0 315.5C353.6 315.3 351.1 315.6 349.0 316.2C346.9 316.8 344.9 318.1 343.3 319.3C341.7 320.5 340.7 321.9 339.6 323.5C338.6 325.1 337.5 326.8 337.0 329.0C336.5 331.2 336.5 334.2 336.6 337.0C336.7 339.8 337.2 343.1 337.8 346.0C338.4 348.9 339.1 351.9 340.3 354.5C341.5 357.1 343.1 359.9 345.0 361.5C346.9 363.1 349.7 364.0 352.0 364.0C354.3 364.0 357.0 362.7 359.0 361.5C361.0 360.3 363.2 357.8 364.0 357.0" fill="none" stroke="#1a1a1a" stroke-width="2.75" stroke-linecap="round" stroke-linejoin="round"/>
<path d="M340.7 353.0C339.6 352.2 339.3 347.6 339.2 345.0C339.1 342.4 339.3 339.4 339.8 337.4C340.3 335.4 340.8 334.1 342.0 333.0C343.2 331.9 344.9 331.3 347.0 331.0C349.1 330.7 352.8 330.8 354.4 331.3C356.0 331.8 356.4 332.7 356.8 334.0C357.2 335.3 357.2 337.1 356.5 339.0C355.8 340.9 354.1 343.8 352.4 345.5C350.6 347.2 347.9 348.2 346.0 349.5C344.1 350.8 341.8 353.8 340.7 353.0Z" fill="none" stroke="#1a1a1a" stroke-width="2.2" stroke-linecap="round" stroke-linejoin="round"/>
<path d="M364.0 380.2C362.8 380.4 359.3 380.9 357.0 381.5C354.7 382.1 352.6 382.4 350.4 383.5C348.2 384.6 345.9 386.3 344.0 388.0C342.1 389.7 340.5 391.7 339.3 393.5C338.1 395.3 337.4 397.2 337.0 399.0C336.6 400.8 336.7 402.7 336.8 404.5C336.9 406.3 337.1 408.3 337.5 410.0C337.9 411.7 338.4 412.7 339.3 414.5C340.2 416.3 341.6 418.9 343.0 421.0C344.4 423.1 345.7 425.6 347.4 427.0C349.1 428.4 351.2 429.9 353.4 429.6C355.6 429.4 358.7 426.8 360.5 425.5C362.3 424.2 363.4 422.6 364.0 422.0" fill="none" stroke="#1a1a1a" stroke-width="2.75" stroke-linecap="round" stroke-linejoin="round"/>
<path d="M346.6 420.0C345.2 419.0 344.2 414.4 343.8 412.0C343.4 409.6 343.7 407.3 344.3 405.5C344.9 403.7 345.9 402.2 347.6 401.4C349.3 400.5 352.6 400.1 354.4 400.4C356.2 400.7 357.6 401.7 358.3 403.0C359.0 404.3 359.1 406.2 358.8 408.0C358.5 409.8 357.6 411.8 356.5 413.5C355.4 415.2 353.6 416.9 352.0 418.0C350.4 419.1 348.0 421.0 346.6 420.0Z" fill="none" stroke="#1a1a1a" stroke-width="2.2" stroke-linecap="round" stroke-linejoin="round"/>
<path d="M357.5 384.2C358.1 384.5 360.0 385.1 361.0 386.0C362.0 386.9 363.1 388.8 363.5 389.3" fill="none" stroke="#1a1a1a" stroke-width="1.6" stroke-linecap="round" stroke-linejoin="round"/>
<path d="M502.9 293.0C503.8 291.2 506.5 285.4 508.5 282.5C510.5 279.6 512.6 277.2 515.0 275.5C517.4 273.8 519.5 272.5 523.0 272.3C526.5 272.1 534.0 274.1 536.2 274.5" fill="none" stroke="#1a1a1a" stroke-width="2.75" stroke-linecap="round" stroke-linejoin="round"/>
<path d="M536.2 274.5C536.2 277.1 536.1 284.6 536.0 290.0C535.9 295.4 534.7 301.9 535.5 306.7C536.3 311.5 539.1 315.1 541.0 319.0C542.9 322.9 545.5 326.3 546.8 330.0C548.1 333.7 548.4 337.2 549.0 341.0C549.6 344.8 550.0 348.9 550.6 352.7C551.2 356.5 551.8 360.2 552.5 364.0C553.2 367.8 554.0 371.8 555.0 375.5C556.0 379.2 557.2 382.5 558.5 386.0C559.8 389.5 561.5 393.0 562.7 396.7C563.9 400.4 564.9 404.1 565.5 408.0C566.1 411.9 566.6 416.7 566.5 420.0C566.4 423.3 565.6 425.5 565.0 428.0C564.4 430.5 563.5 431.3 562.7 435.0C561.9 438.7 561.0 444.9 560.3 450.0C559.5 455.1 558.9 460.5 558.2 465.5C557.5 470.5 556.8 475.5 556.0 480.0C555.2 484.5 554.4 488.7 553.6 492.7C552.8 496.7 552.4 500.4 551.4 504.0C550.4 507.6 548.6 510.7 547.5 514.0C546.4 517.3 545.3 520.9 544.5 523.7C543.7 526.5 543.0 528.5 542.8 531.0C542.5 533.5 542.5 535.8 543.0 538.8C543.5 541.8 544.5 545.5 545.5 549.0C546.5 552.5 547.6 556.4 549.0 560.0C550.4 563.6 552.8 568.9 553.6 570.7" fill="none" stroke="#1a1a1a" stroke-width="2.75" stroke-linecap="round" stroke-linejoin="round"/>
<path d="M553.6 570.7C552.8 571.9 550.8 575.8 549.0 578.0C547.2 580.2 545.2 582.3 543.0 584.0C540.8 585.7 538.5 586.8 536.0 588.0C533.5 589.2 530.6 590.2 527.9 591.0C525.2 591.8 523.3 592.2 520.0 593.0C516.7 593.8 510.0 595.1 508.0 595.5" fill="none" stroke="#1a1a1a" stroke-width="2.75" stroke-linecap="round" stroke-linejoin="round"/>
<path d="M535.0 274.8C533.4 275.3 528.1 276.5 525.5 278.0C522.9 279.5 520.5 281.8 519.3 284.0C518.0 286.2 517.9 289.2 518.0 291.5C518.1 293.8 518.5 295.9 519.8 298.0C521.1 300.1 523.4 302.6 526.0 304.0C528.6 305.4 533.9 306.2 535.5 306.7" fill="none" stroke="#1a1a1a" stroke-width="2" stroke-linecap="round" stroke-linejoin="round"/>
<path d="M502.9 293L506.2 331L504.8 343L502.4 343Z" fill="#1a1a1a" stroke="#1a1a1a" stroke-width="1.2" stroke-linejoin="round"/>
<path d="M505.0 330.0C505.8 331.8 508.2 337.2 509.5 341.0C510.8 344.8 512.0 348.7 512.7 352.7C513.4 356.7 513.5 360.7 513.5 365.0C513.5 369.3 513.2 374.5 512.7 378.5C512.2 382.5 511.0 385.8 510.5 389.0C510.0 392.2 509.9 395.2 509.7 398.0C509.5 400.8 509.4 403.4 509.4 406.0C509.4 408.6 509.6 412.1 509.7 413.3" fill="none" stroke="#1a1a1a" stroke-width="2.75" stroke-linecap="round" stroke-linejoin="round"/>
<path d="M519.5 337.6C520.1 339.2 522.1 343.7 523.3 347.0C524.4 350.3 525.4 353.5 526.4 357.3C527.4 361.1 528.6 365.7 529.5 370.0C530.4 374.3 531.2 379.0 531.7 383.0C532.2 387.0 532.2 390.5 532.2 394.0C532.2 397.5 531.8 402.5 531.7 404.2" fill="none" stroke="#1a1a1a" stroke-width="2.75" stroke-linecap="round" stroke-linejoin="round"/>
<path d="M540.0 435.0C540.1 437.0 540.8 443.2 540.9 447.0C541.0 450.8 541.1 453.7 540.8 458.0C540.5 462.3 539.9 468.0 539.0 473.0C538.1 478.0 537.1 483.5 535.5 488.0C533.9 492.5 532.0 495.4 529.5 500.0C527.0 504.6 523.6 511.6 520.3 515.5C517.0 519.4 511.5 521.9 509.7 523.2" fill="none" stroke="#1a1a1a" stroke-width="2.75" stroke-linecap="round" stroke-linejoin="round"/>
<path d="M390.4 478.6C392.3 483.7 398.0 498.8 402.0 509.0C406.0 519.2 410.6 530.5 414.6 540.0C418.6 549.5 421.9 556.7 426.0 566.0C430.1 575.3 436.8 591.0 439.0 596.0" fill="none" stroke="#1a1a1a" stroke-width="2.75" stroke-linecap="round" stroke-linejoin="round"/>
<path d="M436.9 500.8C437.9 502.2 441.3 506.0 443.0 509.0C444.7 512.0 446.1 515.2 447.0 519.0C447.9 522.8 448.7 527.2 448.6 532.0C448.6 536.8 447.0 544.9 446.7 547.5" fill="none" stroke="#1a1a1a" stroke-width="2.75" stroke-linecap="round" stroke-linejoin="round"/>
<path d="M457.0 487.7C457.2 489.6 457.2 494.8 458.0 499.0C458.8 503.2 460.0 508.2 461.5 513.0C463.0 517.8 464.6 523.5 467.0 528.0C469.4 532.5 472.4 536.8 476.0 540.0C479.6 543.2 486.3 546.2 488.4 547.5" fill="none" stroke="#1a1a1a" stroke-width="2.75" stroke-linecap="round" stroke-linejoin="round"/>
</g>
<g id="leaders">
<path d="M72.0 172.7C74.0 174.2 80.0 177.9 84.0 182.0C88.0 186.1 92.6 191.8 96.0 197.0C99.4 202.2 102.9 210.3 104.3 213.0" fill="none" stroke="#b4b4b4" stroke-width="1.5" stroke-linecap="round" stroke-linejoin="round"/>
<path d="M105.0 217.5L101.4 213.0L106.5 211.9Z" fill="#222"/>
<path d="M118.7 171.5C120.2 173.1 124.8 176.2 128.0 181.0C131.2 185.8 135.0 194.0 138.0 200.0C141.0 206.0 143.8 212.7 146.0 217.0C148.2 221.3 149.7 223.0 151.5 225.8C153.3 228.6 156.1 232.6 157.0 234.0" fill="none" stroke="#b4b4b4" stroke-width="1.5" stroke-linecap="round" stroke-linejoin="round"/>
<path d="M145.2 176.5C145.8 179.1 146.9 186.4 149.0 192.0C151.1 197.6 155.3 204.8 158.0 210.0C160.7 215.2 164.0 219.7 165.4 223.2C166.8 226.7 166.5 229.7 166.7 231.0" fill="none" stroke="#b4b4b4" stroke-width="1.5" stroke-linecap="round" stroke-linejoin="round"/>
<path d="M235.4 184.0C234.2 186.3 231.1 192.7 228.0 198.0C224.9 203.3 220.2 210.8 217.0 216.0C213.8 221.2 209.9 226.8 208.5 229.0" fill="none" stroke="#b4b4b4" stroke-width="1.5" stroke-linecap="round" stroke-linejoin="round"/>
<path d="M205.8 229.3L208.6 234.9L203.0 234.9Z" fill="#222"/>
<path d="M254.3 204.3C253.3 204.9 249.8 206.6 248.5 208.0C247.2 209.4 247.0 210.5 246.7 213.0C246.4 215.5 247.0 219.6 246.8 223.0C246.6 226.4 246.1 230.1 245.5 233.3C244.9 236.5 244.3 239.5 243.0 242.0C241.7 244.5 239.7 246.9 237.9 248.5C236.1 250.1 233.0 251.0 232.0 251.5" fill="none" stroke="#b4b4b4" stroke-width="1.5" stroke-linecap="round" stroke-linejoin="round"/>
<path d="M228.5 252.3L233.7 249.7L233.7 254.9Z" fill="#222"/>
<path d="M63.0 233.3C64.0 234.2 66.9 237.7 69.0 239.0C71.1 240.3 72.3 241.2 75.8 241.0C79.3 240.8 85.0 238.8 90.0 238.0C95.0 237.2 101.2 235.8 106.0 236.0C110.8 236.2 114.8 237.7 119.0 239.5C123.2 241.3 129.2 245.8 131.3 247.0" fill="none" stroke="#b4b4b4" stroke-width="1.5" stroke-linecap="round" stroke-linejoin="round"/>
<path d="M60.6 258.6C61.7 257.9 64.5 255.6 67.0 254.5C69.5 253.4 72.6 252.8 75.8 252.3C79.0 251.8 82.4 251.5 86.0 251.3C89.6 251.1 95.3 251.1 97.2 251.0" fill="none" stroke="#b4b4b4" stroke-width="1.5" stroke-linecap="round" stroke-linejoin="round"/>
<path d="M60.6 300.0C63.3 301.2 71.1 305.6 77.0 307.5C82.9 309.4 90.2 310.6 96.0 311.4C101.8 312.2 109.3 312.2 112.0 312.4" fill="none" stroke="#c4c4c4" stroke-width="1.5" stroke-linecap="round" stroke-linejoin="round"/>
<path d="M115.2 315.5L112.2 311.5L116.6 310.7Z" fill="#444"/>
<path d="M297.2 332.8C294.3 333.4 285.7 335.6 280.0 336.5C274.3 337.4 269.0 337.9 263.0 338.0C257.0 338.1 250.3 337.2 244.0 336.8C237.7 336.4 230.6 335.8 225.3 335.4C220.0 335.0 214.2 334.5 212.0 334.3" fill="none" stroke="#b4b4b4" stroke-width="1.5" stroke-linecap="round" stroke-linejoin="round"/>
<path d="M294.7 356.8C290.9 357.3 279.4 359.1 272.0 360.0C264.6 360.9 256.3 361.4 250.5 362.0C244.7 362.6 241.2 363.4 237.0 363.8C232.8 364.2 229.8 364.6 225.3 364.4C220.8 364.2 215.1 363.2 210.0 362.5C204.9 361.8 197.5 360.7 195.0 360.3" fill="none" stroke="#b4b4b4" stroke-width="1.5" stroke-linecap="round" stroke-linejoin="round"/>
<path d="M298.5 375.8C295.4 377.2 285.9 381.6 280.0 384.5C274.1 387.4 269.0 390.8 263.0 393.4C257.0 396.0 250.3 398.1 244.0 400.0C237.7 401.9 231.8 403.4 225.3 404.8C218.8 406.2 211.4 407.8 205.0 408.5C198.6 409.2 190.0 408.8 187.0 408.8" fill="none" stroke="#b4b4b4" stroke-width="1.5" stroke-linecap="round" stroke-linejoin="round"/>
<path d="M302.3 392.2C298.9 393.3 288.6 396.9 282.0 399.0C275.4 401.1 269.3 403.1 263.0 404.8C256.7 406.5 250.3 407.7 244.0 409.0C237.7 410.3 231.8 411.2 225.3 412.4C218.8 413.6 211.4 415.5 205.0 416.0C198.6 416.5 190.0 415.4 187.0 415.3" fill="none" stroke="#b4b4b4" stroke-width="1.5" stroke-linecap="round" stroke-linejoin="round"/>
<path d="M310.0 420.0C307.2 420.3 298.7 421.4 293.0 421.8C287.3 422.2 282.0 422.5 275.8 422.5C269.6 422.5 262.3 422.2 256.0 422.0C249.7 421.8 242.9 421.6 237.9 421.2C232.9 420.8 229.8 420.1 226.0 419.5C222.2 418.9 216.8 417.8 215.0 417.4" fill="none" stroke="#b4b4b4" stroke-width="1.5" stroke-linecap="round" stroke-linejoin="round"/>
<path d="M74.5 442.7C77.6 441.8 86.5 438.7 93.0 437.0C99.5 435.3 107.1 433.8 113.6 432.6C120.1 431.4 125.7 430.6 132.0 430.0C138.3 429.4 148.2 429.0 151.5 428.8" fill="none" stroke="#b4b4b4" stroke-width="1.5" stroke-linecap="round" stroke-linejoin="round"/>
<path d="M58.0 470.5C59.8 469.7 65.2 466.8 69.0 465.5C72.8 464.2 77.5 463.2 80.8 463.0C84.1 462.8 86.6 463.6 89.0 464.5C91.4 465.4 94.0 467.7 95.0 468.3" fill="none" stroke="#b4b4b4" stroke-width="1.5" stroke-linecap="round" stroke-linejoin="round"/>
<path d="M97.5 472.5L92.8 469.4L97.2 466.9Z" fill="#222"/>
<path d="M61.9 500.8C64.1 500.4 70.6 499.6 75.0 498.5C79.4 497.4 84.6 496.4 88.4 494.5C92.2 492.6 95.1 489.9 98.0 487.0C100.9 484.1 104.7 478.5 106.0 476.8" fill="none" stroke="#b4b4b4" stroke-width="1.5" stroke-linecap="round" stroke-linejoin="round"/>
<path d="M121.2 529.9C123.0 528.5 128.6 524.5 132.0 521.5C135.4 518.5 138.7 516.0 141.4 512.2C144.1 508.5 146.3 503.6 148.0 499.0C149.7 494.4 150.9 486.8 151.5 484.4" fill="none" stroke="#b4b4b4" stroke-width="1.5" stroke-linecap="round" stroke-linejoin="round"/>
<path d="M307.3 474.3C304.6 473.8 296.2 472.3 291.0 471.0C285.8 469.7 281.6 468.4 275.8 466.7C270.0 464.9 262.3 462.6 256.0 460.5C249.7 458.4 245.1 456.8 237.9 454.0C230.7 451.2 220.8 447.8 212.6 444.0C204.4 440.2 192.9 433.2 189.0 431.0" fill="none" stroke="#b4b4b4" stroke-width="1.5" stroke-linecap="round" stroke-linejoin="round"/>
<path d="M296.0 504.6C293.2 503.6 284.5 500.6 279.0 498.5C273.5 496.4 268.3 494.1 263.0 492.0C257.7 489.9 252.0 487.9 247.0 486.0C242.0 484.1 235.2 481.5 232.8 480.6" fill="none" stroke="#b4b4b4" stroke-width="1.5" stroke-linecap="round" stroke-linejoin="round"/>
<path d="M321.2 550.0C319.5 549.2 314.4 546.8 311.0 545.5C307.6 544.2 304.5 544.0 301.0 542.5C297.5 541.0 293.4 539.0 290.0 536.5C286.6 534.0 282.3 528.8 280.8 527.3" fill="none" stroke="#b4b4b4" stroke-width="1.5" stroke-linecap="round" stroke-linejoin="round"/>
<path d="M336.4 167.7C338.5 169.2 345.2 173.6 349.0 177.0C352.8 180.4 356.2 184.3 359.0 188.0C361.8 191.7 364.0 195.6 366.0 199.0C368.0 202.4 370.2 206.9 371.0 208.5" fill="none" stroke="#b4b4b4" stroke-width="1.5" stroke-linecap="round" stroke-linejoin="round"/>
<path d="M372.0 213.0L368.4 208.5L373.5 207.4Z" fill="#222"/>
<path d="M388.4 177.6C389.1 179.5 391.2 185.6 392.8 189.0C394.4 192.4 395.7 194.6 398.0 197.8C400.3 201.0 403.9 205.1 406.8 208.3C409.7 211.5 413.6 214.4 415.5 217.0C417.4 219.6 417.5 221.4 418.1 224.0C418.7 226.6 418.9 231.3 419.0 232.8" fill="none" stroke="#b4b4b4" stroke-width="1.5" stroke-linecap="round" stroke-linejoin="round"/>
<path d="M504.8 179.0C503.9 181.3 501.4 188.2 499.5 193.0C497.6 197.8 495.8 203.4 493.4 208.0C491.0 212.6 487.6 216.9 485.0 220.5C482.4 224.1 478.8 228.0 477.5 229.5" fill="none" stroke="#b4b4b4" stroke-width="1.5" stroke-linecap="round" stroke-linejoin="round"/>
<path d="M473.8 229.5L476.6 235.1L471.0 235.1Z" fill="#222"/>
<path d="M532.6 204.3C531.7 204.9 528.3 206.6 527.0 208.0C525.7 209.4 525.6 210.0 525.0 213.0C524.4 216.0 524.1 221.8 523.5 226.0C522.9 230.2 522.4 235.1 521.2 238.4C520.0 241.7 518.4 244.0 516.5 246.0C514.6 248.0 511.1 249.8 510.0 250.5" fill="none" stroke="#b4b4b4" stroke-width="1.5" stroke-linecap="round" stroke-linejoin="round"/>
<path d="M505.3 251.2L510.5 248.6L510.5 253.8Z" fill="#222"/>
<path d="M326.3 242.2C327.9 241.6 332.6 239.4 336.0 238.5C339.4 237.6 341.8 237.2 346.5 237.0C351.2 236.8 361.1 237.0 364.0 237.0" fill="none" stroke="#b4b4b4" stroke-width="1.5" stroke-linecap="round" stroke-linejoin="round"/>
<path d="M323.7 286.4C324.9 287.3 328.1 290.3 331.0 292.0C333.9 293.7 338.2 295.2 341.4 296.5C344.6 297.8 347.1 298.8 350.0 299.5C352.9 300.2 357.1 300.8 358.5 301.0" fill="none" stroke="#b4b4b4" stroke-width="1.5" stroke-linecap="round" stroke-linejoin="round"/>
<path d="M366 303C376 305 385 307.5 390.4 309.5C397 312 401 317 404.5 324" fill="none" stroke="#cfcfcf" stroke-width="2.6" stroke-linecap="round"/>
<path d="M569.2 331.6C566.8 331.6 559.6 331.6 555.0 331.8C550.4 332.0 546.6 332.1 541.4 332.8C536.2 333.5 529.5 334.7 524.0 336.0C518.5 337.3 514.4 338.7 508.6 340.4C502.8 342.1 492.6 345.3 489.4 346.3" fill="none" stroke="#b4b4b4" stroke-width="1.5" stroke-linecap="round" stroke-linejoin="round"/>
<path d="M569.2 353.0C566.8 353.3 559.6 354.4 555.0 355.0C550.4 355.6 546.4 356.1 541.4 356.8C536.4 357.5 530.5 358.4 525.0 359.0C519.5 359.6 515.6 360.3 508.6 360.6C501.7 360.9 487.5 360.6 483.3 360.6" fill="none" stroke="#b4b4b4" stroke-width="1.5" stroke-linecap="round" stroke-linejoin="round"/>
<path d="M566.7 370.7C564.6 371.2 558.2 372.7 554.0 374.0C549.8 375.3 546.2 376.1 541.4 378.3C536.6 380.6 530.5 384.6 525.0 387.5C519.5 390.4 514.1 393.7 508.6 396.0C503.1 398.3 497.5 400.0 492.0 401.5C486.5 403.0 482.1 404.1 475.8 404.8C469.5 405.6 457.9 405.8 454.3 406.0" fill="none" stroke="#b4b4b4" stroke-width="1.5" stroke-linecap="round" stroke-linejoin="round"/>
<path d="M566.7 392.0C564.6 393.2 558.2 397.2 554.0 399.5C549.8 401.8 546.2 404.4 541.4 406.0C536.6 407.6 530.5 408.2 525.0 409.0C519.5 409.8 514.1 410.2 508.6 411.0C503.1 411.8 497.5 412.7 492.0 413.5C486.5 414.3 482.1 415.4 475.8 416.0C469.5 416.6 457.9 417.2 454.3 417.4" fill="none" stroke="#b4b4b4" stroke-width="1.5" stroke-linecap="round" stroke-linejoin="round"/>
<path d="M574.2 420.0C572.3 420.6 566.8 422.4 563.0 423.5C559.2 424.6 556.0 425.6 551.5 426.3C547.0 427.1 541.0 427.6 536.0 428.0C531.0 428.4 525.9 428.7 521.2 428.8C516.5 428.9 512.2 428.7 508.0 428.5C503.8 428.3 500.9 428.1 496.0 427.5C491.1 426.9 481.2 425.4 478.3 425.0" fill="none" stroke="#b4b4b4" stroke-width="1.5" stroke-linecap="round" stroke-linejoin="round"/>
<path d="M565.4 473.0C563.3 472.7 557.0 471.8 553.0 471.0C549.0 470.2 545.6 469.4 541.4 468.0C537.2 466.6 532.2 464.4 528.0 462.5C523.8 460.6 522.0 459.7 516.2 456.6C510.4 453.5 500.2 446.8 493.4 444.0C486.6 441.2 482.0 442.2 475.3 440.0C468.6 437.8 456.7 432.5 453.0 431.0" fill="none" stroke="#b4b4b4" stroke-width="1.5" stroke-linecap="round" stroke-linejoin="round"/>
<path d="M408.6 443.0C408.6 445.3 409.1 452.4 408.8 457.0C408.5 461.6 408.1 465.5 406.6 470.5C405.1 475.5 402.7 481.9 400.0 487.0C397.3 492.1 392.8 497.1 390.4 500.8C388.0 504.5 386.2 507.6 385.4 509.0" fill="none" stroke="#b4b4b4" stroke-width="1.5" stroke-linecap="round" stroke-linejoin="round"/>
<path d="M421.7 476.6C421.7 478.7 422.0 485.0 421.8 489.0C421.6 493.0 421.6 495.5 420.7 500.8C419.8 506.1 418.5 516.0 416.7 521.0C414.9 526.0 412.7 527.8 410.0 531.0C407.3 534.2 402.1 538.5 400.5 540.0" fill="none" stroke="#b4b4b4" stroke-width="1.5" stroke-linecap="round" stroke-linejoin="round"/>
<path d="M561.6 547.5C561.1 546.6 559.5 543.7 558.5 542.0C557.5 540.3 556.5 539.1 555.3 537.4C554.1 535.7 552.8 533.5 551.5 532.0C550.2 530.5 548.3 529.2 547.7 528.6" fill="none" stroke="#b4b4b4" stroke-width="1.5" stroke-linecap="round" stroke-linejoin="round"/>
<path d="M601.0 116.7C602.2 116.3 605.8 114.8 608.0 114.5C610.2 114.2 612.7 114.5 614.5 115.0C616.3 115.5 618.2 117.1 619.0 117.5" fill="none" stroke="#b4b4b4" stroke-width="1.5" stroke-linecap="round" stroke-linejoin="round"/>
<path d="M622.5 122.0L617.9 120.0L621.3 117.1Z" fill="#222"/>
<path d="M591.8 139.4C593.3 139.6 597.7 140.5 601.0 140.8C604.3 141.1 608.3 141.1 611.5 141.0C614.7 140.9 617.2 140.8 620.0 140.5C622.8 140.2 626.7 139.6 628.0 139.4" fill="none" stroke="#b4b4b4" stroke-width="1.5" stroke-linecap="round" stroke-linejoin="round"/>
<path d="M593.3 174.0C594.8 174.8 599.0 177.4 602.0 178.5C605.0 179.6 608.7 180.1 611.5 180.3C614.3 180.5 617.1 179.9 619.0 179.5C620.9 179.1 622.3 178.2 623.0 178.0" fill="none" stroke="#b4b4b4" stroke-width="1.5" stroke-linecap="round" stroke-linejoin="round"/>
<path d="M626.3 177.0L623.0 180.0L621.9 176.1Z" fill="#222"/>
<path d="M608.5 204.5C608.4 205.9 607.6 210.2 607.6 213.0C607.6 215.8 607.9 218.9 608.5 221.0C609.1 223.1 610.6 224.8 611.0 225.5" fill="none" stroke="#b4b4b4" stroke-width="1.5" stroke-linecap="round" stroke-linejoin="round"/>
<path d="M616.5 231.0L611.2 229.2L614.7 225.7Z" fill="#222"/>
<path d="M584.0 228.8C585.3 229.3 589.4 230.7 592.0 232.0C594.6 233.3 597.1 234.7 599.4 236.4C601.6 238.1 604.5 241.4 605.5 242.4" fill="none" stroke="#b4b4b4" stroke-width="1.5" stroke-linecap="round" stroke-linejoin="round"/>
<path d="M584.0 256.0C586.5 256.4 593.9 258.0 599.0 258.5C604.1 259.0 610.0 259.1 614.5 259.0C619.0 258.9 622.5 258.5 626.0 258.0C629.5 257.5 633.0 256.8 635.8 256.0C638.6 255.2 640.7 254.5 643.0 253.5C645.3 252.5 648.3 250.6 649.4 250.0" fill="none" stroke="#b4b4b4" stroke-width="1.5" stroke-linecap="round" stroke-linejoin="round"/>
<path d="M598.0 274.0C601.3 273.8 611.3 272.7 618.0 273.0C624.7 273.3 632.2 274.8 638.0 276.0C643.8 277.2 648.4 278.8 653.0 280.5C657.6 282.2 662.2 284.4 665.7 286.4C669.2 288.4 671.5 290.2 674.0 292.5C676.5 294.8 679.7 298.8 680.8 300.0" fill="none" stroke="#b4b4b4" stroke-width="1.5" stroke-linecap="round" stroke-linejoin="round"/>
<path d="M611.5 487.3C613.1 485.4 618.0 480.1 621.0 476.0C624.0 471.9 627.0 467.6 629.7 463.0C632.4 458.4 634.5 453.0 637.0 448.5C639.5 444.0 642.0 439.6 644.8 435.8C647.6 432.1 650.7 428.5 654.0 426.0C657.3 423.5 662.8 421.5 664.5 420.6" fill="none" stroke="#b4b4b4" stroke-width="1.5" stroke-linecap="round" stroke-linejoin="round"/>
<path d="M646.4 498.0C646.7 495.3 647.2 487.3 648.0 482.0C648.8 476.7 650.1 470.8 651.0 466.0C651.9 461.2 652.5 457.0 653.5 453.0C654.5 449.0 655.6 444.8 657.0 441.8C658.4 438.8 660.0 436.8 662.0 435.0C664.0 433.2 667.8 431.8 669.0 431.2" fill="none" stroke="#b4b4b4" stroke-width="1.5" stroke-linecap="round" stroke-linejoin="round"/>
<path d="M675.0 488.8C674.8 486.8 673.7 480.8 673.5 477.0C673.3 473.2 673.2 469.7 673.6 466.0C674.0 462.3 675.0 458.5 676.0 455.0C677.0 451.5 678.3 448.0 679.7 444.8C681.1 441.6 683.5 437.3 684.2 435.8" fill="none" stroke="#b4b4b4" stroke-width="1.5" stroke-linecap="round" stroke-linejoin="round"/>
<path d="M694.7 550.0C695.2 548.2 696.5 542.8 697.5 539.0C698.5 535.2 699.7 531.8 701.0 527.3C702.3 522.8 704.2 517.0 705.5 512.0C706.8 506.9 708.4 501.3 708.6 497.0C708.8 492.7 707.8 489.2 706.5 486.0C705.2 482.8 701.9 479.3 701.0 478.0" fill="none" stroke="#b4b4b4" stroke-width="1.5" stroke-linecap="round" stroke-linejoin="round"/>
</g>
<g fill="none" stroke-linecap="round">
<ellipse cx="169.6" cy="416" rx="19" ry="24" stroke="#6a6a6a" stroke-width="1.2"/>
<ellipse cx="169.6" cy="416" rx="15.8" ry="20.6" stroke="#555" stroke-width="1.3" stroke-dasharray="3.4 3"/>
<g transform="translate(168.5 417.6) scale(1.0)" stroke="#1c1c1c" stroke-width="2.05">
<path d="M-10.5 1.0C-10.6 -0.2 -11.2 -3.8 -10.8 -6.0C-10.4 -8.2 -9.5 -10.7 -8.0 -12.5C-6.5 -14.3 -4.1 -16.1 -2.0 -16.6C0.1 -17.2 2.6 -16.7 4.5 -15.8C6.4 -14.9 8.4 -13.0 9.5 -11.0C10.6 -9.0 10.9 -6.5 11.2 -4.0C11.5 -1.5 11.3 2.7 11.3 4.0"/>
<path d="M-8.0 -1.0C-7.9 -2.1 -8.3 -5.6 -7.6 -7.5C-6.9 -9.4 -5.4 -11.3 -4.0 -12.3C-2.6 -13.3 -0.7 -13.6 1.0 -13.3C2.7 -13.0 4.8 -11.9 6.0 -10.5C7.2 -9.1 7.8 -7.2 8.2 -5.0C8.6 -2.8 8.2 0.9 8.4 3.0C8.6 5.1 9.3 6.8 9.5 7.5"/>
<path d="M-5.6 -3.5C-5.3 -4.2 -4.9 -6.9 -4.0 -8.0C-3.1 -9.1 -1.3 -10.1 0.0 -10.0C1.3 -9.9 2.9 -8.8 3.8 -7.5C4.7 -6.2 5.0 -3.8 5.3 -2.0C5.5 -0.2 4.9 1.8 5.3 3.5C5.7 5.2 6.5 6.9 7.5 8.0C8.4 9.1 10.4 9.7 11.0 10.0"/>
<path d="M-3.0 -5.0C-2.5 -5.3 -1.1 -6.8 -0.3 -6.6C0.5 -6.4 1.5 -5.3 2.0 -4.0C2.5 -2.7 2.7 -0.5 2.5 1.0C2.3 2.5 1.9 3.8 1.0 5.0C0.1 6.2 -1.3 7.6 -3.0 8.5C-4.7 9.4 -8.0 10.2 -9.0 10.5"/>
<path d="M-10.8 4.5C-10.1 4.3 -7.9 4.2 -6.5 3.6C-5.1 3.0 -3.5 2.0 -2.5 1.0C-1.5 -0.0 -0.9 -1.9 -0.6 -2.5"/>
<path d="M-10.3 7.6C-9.5 7.4 -7.0 7.2 -5.5 6.6C-4.0 6.0 -2.4 4.9 -1.5 4.0C-0.6 3.1 -0.2 1.5 0.0 1.0"/>
<path d="M-8.0 13.6C-7.2 13.4 -4.6 13.1 -3.0 12.4C-1.4 11.7 0.3 10.5 1.5 9.5C2.7 8.5 3.2 6.5 4.0 6.6C4.8 6.7 5.1 8.9 6.0 10.0C6.9 11.1 9.0 12.5 9.6 13.0"/>
<path d="M-5.5 16.2C-4.6 16.1 -1.5 16.1 0.0 15.6C1.5 15.2 2.4 13.6 3.5 13.5C4.6 13.4 6.0 15.0 6.5 15.3"/>
<path d="M1.5 12.6C1.9 12.3 3.4 11.3 3.8 11.0"/>
<path d="M-2.5 17.3C-1.6 17.3 1.4 17.4 3.0 17.2C4.6 16.9 6.5 16.0 7.2 15.8"/>
</g></g>
<g fill="none" stroke-linecap="round">
<ellipse cx="436.3" cy="416.8" rx="18.7" ry="23.2" stroke="#6a6a6a" stroke-width="1.2"/>
<ellipse cx="436.3" cy="416.8" rx="15.5" ry="19.8" stroke="#555" stroke-width="1.3" stroke-dasharray="3.4 3"/>
<g transform="translate(435.3 416.3) scale(1.0)" stroke="#1c1c1c" stroke-width="2.05">
<path d="M-10.5 1.0C-10.6 -0.2 -11.2 -3.8 -10.8 -6.0C-10.4 -8.2 -9.5 -10.7 -8.0 -12.5C-6.5 -14.3 -4.1 -16.1 -2.0 -16.6C0.1 -17.2 2.6 -16.7 4.5 -15.8C6.4 -14.9 8.4 -13.0 9.5 -11.0C10.6 -9.0 10.9 -6.5 11.2 -4.0C11.5 -1.5 11.3 2.7 11.3 4.0"/>
<path d="M-8.0 -1.0C-7.9 -2.1 -8.3 -5.6 -7.6 -7.5C-6.9 -9.4 -5.4 -11.3 -4.0 -12.3C-2.6 -13.3 -0.7 -13.6 1.0 -13.3C2.7 -13.0 4.8 -11.9 6.0 -10.5C7.2 -9.1 7.8 -7.2 8.2 -5.0C8.6 -2.8 8.2 0.9 8.4 3.0C8.6 5.1 9.3 6.8 9.5 7.5"/>
<path d="M-5.6 -3.5C-5.3 -4.2 -4.9 -6.9 -4.0 -8.0C-3.1 -9.1 -1.3 -10.1 0.0 -10.0C1.3 -9.9 2.9 -8.8 3.8 -7.5C4.7 -6.2 5.0 -3.8 5.3 -2.0C5.5 -0.2 4.9 1.8 5.3 3.5C5.7 5.2 6.5 6.9 7.5 8.0C8.4 9.1 10.4 9.7 11.0 10.0"/>
<path d="M-3.0 -5.0C-2.5 -5.3 -1.1 -6.8 -0.3 -6.6C0.5 -6.4 1.5 -5.3 2.0 -4.0C2.5 -2.7 2.7 -0.5 2.5 1.0C2.3 2.5 1.9 3.8 1.0 5.0C0.1 6.2 -1.3 7.6 -3.0 8.5C-4.7 9.4 -8.0 10.2 -9.0 10.5"/>
<path d="M-10.8 4.5C-10.1 4.3 -7.9 4.2 -6.5 3.6C-5.1 3.0 -3.5 2.0 -2.5 1.0C-1.5 -0.0 -0.9 -1.9 -0.6 -2.5"/>
<path d="M-10.3 7.6C-9.5 7.4 -7.0 7.2 -5.5 6.6C-4.0 6.0 -2.4 4.9 -1.5 4.0C-0.6 3.1 -0.2 1.5 0.0 1.0"/>
<path d="M-8.0 13.6C-7.2 13.4 -4.6 13.1 -3.0 12.4C-1.4 11.7 0.3 10.5 1.5 9.5C2.7 8.5 3.2 6.5 4.0 6.6C4.8 6.7 5.1 8.9 6.0 10.0C6.9 11.1 9.0 12.5 9.6 13.0"/>
<path d="M-5.5 16.2C-4.6 16.1 -1.5 16.1 0.0 15.6C1.5 15.2 2.4 13.6 3.5 13.5C4.6 13.4 6.0 15.0 6.5 15.3"/>
<path d="M1.5 12.6C1.9 12.3 3.4 11.3 3.8 11.0"/>
<path d="M-2.5 17.3C-1.6 17.3 1.4 17.4 3.0 17.2C4.6 16.9 6.5 16.0 7.2 15.8"/>
</g></g>
<g fill="none" stroke-linecap="round">
<ellipse cx="683.8" cy="412.3" rx="19.2" ry="24.7" stroke="#6a6a6a" stroke-width="1.2"/>
<ellipse cx="683.8" cy="412.3" rx="16.0" ry="21.3" stroke="#555" stroke-width="1.3" stroke-dasharray="3.4 3"/>
<g transform="translate(684.6 412.3) scale(1.0)" stroke="#1c1c1c" stroke-width="2.05">
<path d="M-10.5 1.0C-10.6 -0.2 -11.2 -3.8 -10.8 -6.0C-10.4 -8.2 -9.5 -10.7 -8.0 -12.5C-6.5 -14.3 -4.1 -16.1 -2.0 -16.6C0.1 -17.2 2.6 -16.7 4.5 -15.8C6.4 -14.9 8.4 -13.0 9.5 -11.0C10.6 -9.0 10.9 -6.5 11.2 -4.0C11.5 -1.5 11.3 2.7 11.3 4.0"/>
<path d="M-8.0 -1.0C-7.9 -2.1 -8.3 -5.6 -7.6 -7.5C-6.9 -9.4 -5.4 -11.3 -4.0 -12.3C-2.6 -13.3 -0.7 -13.6 1.0 -13.3C2.7 -13.0 4.8 -11.9 6.0 -10.5C7.2 -9.1 7.8 -7.2 8.2 -5.0C8.6 -2.8 8.2 0.9 8.4 3.0C8.6 5.1 9.3 6.8 9.5 7.5"/>
<path d="M-5.6 -3.5C-5.3 -4.2 -4.9 -6.9 -4.0 -8.0C-3.1 -9.1 -1.3 -10.1 0.0 -10.0C1.3 -9.9 2.9 -8.8 3.8 -7.5C4.7 -6.2 5.0 -3.8 5.3 -2.0C5.5 -0.2 4.9 1.8 5.3 3.5C5.7 5.2 6.5 6.9 7.5 8.0C8.4 9.1 10.4 9.7 11.0 10.0"/>
<path d="M-3.0 -5.0C-2.5 -5.3 -1.1 -6.8 -0.3 -6.6C0.5 -6.4 1.5 -5.3 2.0 -4.0C2.5 -2.7 2.7 -0.5 2.5 1.0C2.3 2.5 1.9 3.8 1.0 5.0C0.1 6.2 -1.3 7.6 -3.0 8.5C-4.7 9.4 -8.0 10.2 -9.0 10.5"/>
<path d="M-10.8 4.5C-10.1 4.3 -7.9 4.2 -6.5 3.6C-5.1 3.0 -3.5 2.0 -2.5 1.0C-1.5 -0.0 -0.9 -1.9 -0.6 -2.5"/>
<path d="M-10.3 7.6C-9.5 7.4 -7.0 7.2 -5.5 6.6C-4.0 6.0 -2.4 4.9 -1.5 4.0C-0.6 3.1 -0.2 1.5 0.0 1.0"/>
<path d="M-8.0 13.6C-7.2 13.4 -4.6 13.1 -3.0 12.4C-1.4 11.7 0.3 10.5 1.5 9.5C2.7 8.5 3.2 6.5 4.0 6.6C4.8 6.7 5.1 8.9 6.0 10.0C6.9 11.1 9.0 12.5 9.6 13.0"/>
<path d="M-5.5 16.2C-4.6 16.1 -1.5 16.1 0.0 15.6C1.5 15.2 2.4 13.6 3.5 13.5C4.6 13.4 6.0 15.0 6.5 15.3"/>
<path d="M1.5 12.6C1.9 12.3 3.4 11.3 3.8 11.0"/>
<path d="M-2.5 17.3C-1.6 17.3 1.4 17.4 3.0 17.2C4.6 16.9 6.5 16.0 7.2 15.8"/>
</g></g>
</g>
</svg>
</body>
</html>
